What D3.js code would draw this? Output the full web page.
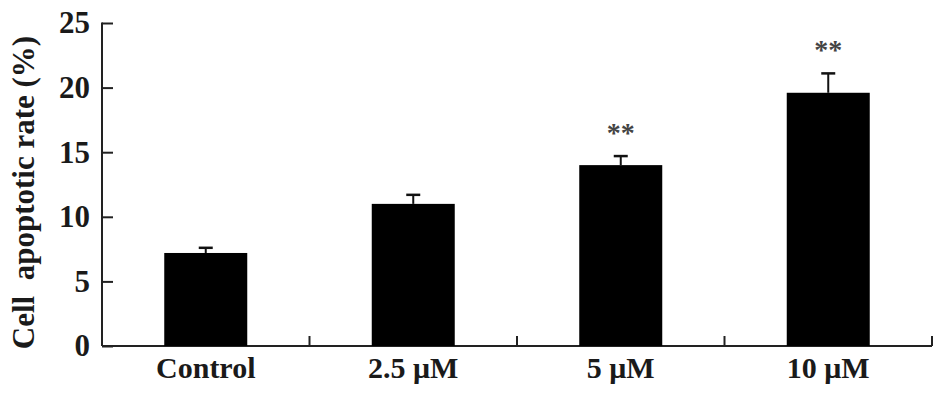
<!DOCTYPE html>
<html>
<head>
<meta charset="utf-8">
<script src="https://cdn.jsdelivr.net/npm/d3@7"></script>
<style>
  body { margin: 0; background: #fff; }
  svg text { font-family: "Liberation Serif", "Times New Roman", serif; font-weight: bold; fill: #1a1a1a; }
</style>
</head>
<body>
<svg></svg>
<script>
const groups = ["Control", "2.5 \u03bcM", "5 \u03bcM", "10 \u03bcM"];
const means = [7.2, 11.0, 14.0, 19.6];
const errors = [0.4, 0.7, 0.7, 1.5];
const marks = ["", "", "**", "**"];
const yTicks = [0, 5, 10, 15, 20, 25];

const width = 945;
const height = 397;
const svg = d3.select("svg")
    .attr("width", width)
    .attr("height", height);

const margin = { top: 23, right: 13, bottom: 51, left: 102 };

const x = d3.scaleBand()
    .domain(groups)
    .range([margin.left, width - margin.right])
    .padding(0);

const y = d3.scaleLinear()
    .domain([0, 25])
    .range([height - margin.bottom, margin.top]);

const axisColor = "#222";

// y axis, ticks point into the plot
const yAxis = svg.append("g")
    .attr("transform", `translate(${margin.left},0)`)
    .call(d3.axisLeft(y).tickValues(yTicks).tickSizeInner(-11).tickSizeOuter(0).tickPadding(12));
yAxis.select(".domain").attr("stroke", axisColor).attr("stroke-width", 2)
    .attr("d", `M0,${y(0)}V${y(25) - 0.5}`);
yAxis.selectAll(".tick line").attr("stroke", axisColor).attr("stroke-width", 2);
yAxis.selectAll(".tick text").style("font-size", "31px").attr("fill", "#1a1a1a");

// x axis: labels at centres, ticks at group boundaries
const xAxis = svg.append("g")
    .attr("transform", `translate(0,${y(0)})`)
    .call(d3.axisBottom(x).tickSize(0).tickPadding(11));
xAxis.select(".domain").attr("stroke", axisColor).attr("stroke-width", 2)
    .attr("d", `M${margin.left},0H${width - margin.right}`);
xAxis.selectAll(".tick text").style("font-size", "30px").attr("fill", "#1a1a1a");

xAxis.selectAll(".sep")
    .data(groups)
    .enter().append("line")
    .attr("class", "sep")
    .attr("x1", d => x(d) + x.bandwidth())
    .attr("x2", d => x(d) + x.bandwidth())
    .attr("y1", 0)
    .attr("y2", -10)
    .attr("stroke", axisColor)
    .attr("stroke-width", 2);

const barW = x.bandwidth() * 0.4;
const cx = d => x(d) + x.bandwidth() / 2;

// error bars (upper only)
groups.forEach((g, i) => {
    svg.append("line")
        .attr("x1", cx(g)).attr("x2", cx(g))
        .attr("y1", y(means[i])).attr("y2", y(means[i] + errors[i]))
        .attr("stroke", "#111").attr("stroke-width", 2);
    svg.append("line")
        .attr("x1", cx(g) - 7).attr("x2", cx(g) + 7)
        .attr("y1", y(means[i] + errors[i])).attr("y2", y(means[i] + errors[i]))
        .attr("stroke", "#111").attr("stroke-width", 2.5);
});

svg.selectAll(".bar")
    .data(groups)
    .enter().append("rect")
    .attr("class", "bar")
    .attr("x", d => cx(d) - barW / 2)
    .attr("y", (d, i) => y(means[i]))
    .attr("width", barW)
    .attr("height", (d, i) => y(0) - y(means[i]))
    .attr("fill", "#000");

svg.selectAll(".sig")
    .data(groups)
    .enter().append("text")
    .attr("class", "sig")
    .attr("x", d => cx(d))
    .attr("y", (d, i) => y(means[i] + errors[i]) - 14)
    .attr("text-anchor", "middle")
    .style("font-size", "28px")
    .style("fill", "#444")
    .text((d, i) => marks[i]);

// y axis title
svg.append("text")
    .attr("transform", `translate(34,${(y(0) + 23) / 2 + 8}) rotate(-90)`)
    .attr("text-anchor", "middle")
    .style("font-size", "31px")
    .style("white-space", "pre")
    .text("Cell  apoptotic rate (%)");
</script>
</body>
</html>
